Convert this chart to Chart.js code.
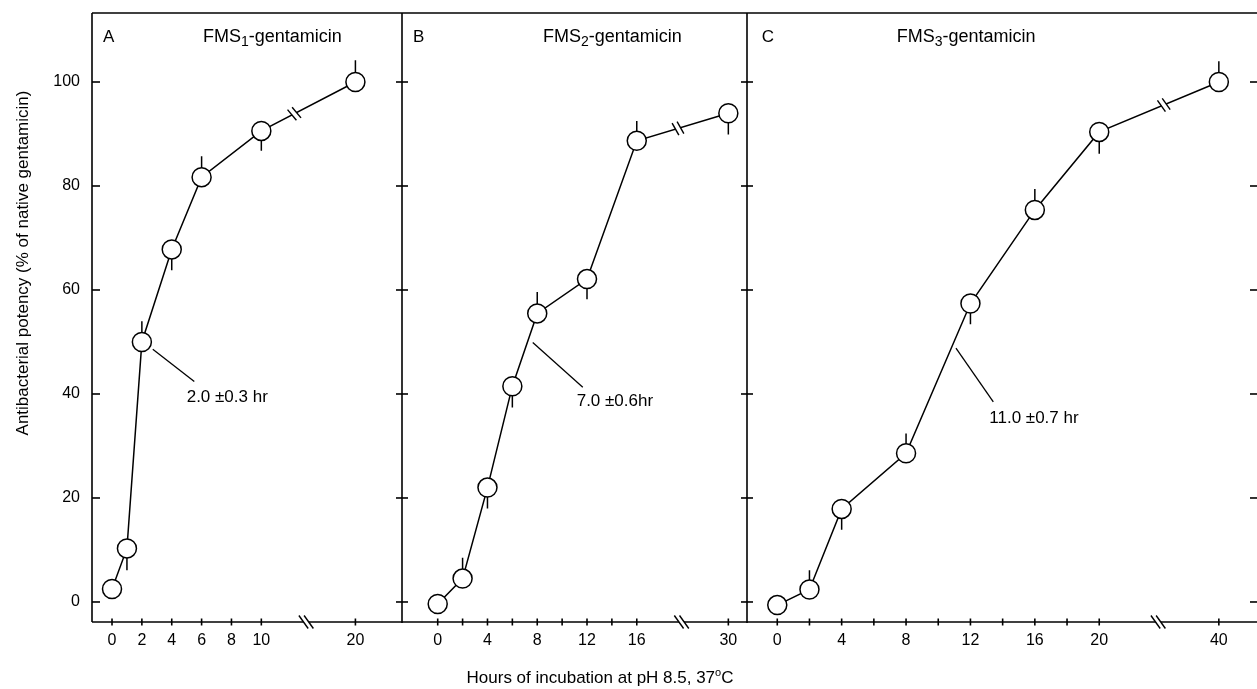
<!DOCTYPE html>
<html>
<head>
<meta charset="utf-8">
<script src="https://cdn.jsdelivr.net/npm/chart.js@4.4.0/dist/chart.umd.min.js"></script>
<style>
  html, body { margin: 0; padding: 0; background: #fff; }
  body { width: 1257px; height: 689px; position: relative; overflow: hidden; }
  canvas { position: absolute; top: 0; }
</style>
</head>
<body>
<canvas id="cA"></canvas>
<canvas id="cB"></canvas>
<canvas id="cC"></canvas>
<script>
// ---- data ----
const yTickValues = [0, 20, 40, 60, 80, 100];

const hoursA = [0, 1, 2, 4, 6, 10, 20];
const potencyA = [2.5, 10.3, 50, 67.8, 81.7, 90.6, 100];
const sdA = [0, -4.2, 4, -4, 4, -3.8, 4.2]; // sign = side the bar is drawn on
const tickHoursA = [0, 2, 4, 6, 8, 10, 20];
const labelHoursA = [0, 2, 4, 6, 8, 10, 20];

const hoursB = [0, 2, 4, 6, 8, 12, 16, 30];
const potencyB = [-0.4, 4.5, 22, 41.5, 55.5, 62.1, 88.7, 94];
const sdB = [0, 4, -4, -4.1, 4.1, -3.9, 3.8, -4.1];
const tickHoursB = [0, 2, 4, 6, 8, 10, 12, 14, 16, 30];
const labelHoursB = [0, 4, 8, 12, 16, 30];

const hoursC = [0, 2, 4, 8, 12, 16, 20, 40];
const potencyC = [-0.6, 2.4, 17.9, 28.6, 57.4, 75.4, 90.4, 100];
const sdC = [0, 3.7, -4, 3.8, -4, 4, -4.2, 4];
const tickHoursC = [0, 2, 4, 6, 8, 10, 12, 14, 16, 18, 20, 40];
const labelHoursC = [0, 4, 8, 12, 16, 20, 40];

const panelLetters = ['A', 'B', 'C'];
const panelSubs = ['1', '2', '3'];
const halfLives = ['2.0 \u00b10.3 hr', '7.0 \u00b10.6hr', '11.0 \u00b10.7 hr'];

const FONT = '"Liberation Sans", Arial, Helvetica, sans-serif';
Chart.defaults.font.family = FONT;
Chart.defaults.color = '#000';

// layout of each panel (x axis is broken: the last hour is drawn at farPos)
const panels = [
  { id: 'cA', left: 0, width: 410, padL: 0, padR: 8, showY: true, rightLine: true,
    xMin: -1.34, xMax: 19.42, linearEnd: 10, farPos: 16.3, axisBreak: 13.0, lineBreakT: 0.35,
    letterDx: 11, titleDx: 111, note: [[2.73, 48.6], [5.51, 42.4], [5.0, 39.4]],
    hours: hoursA, potency: potencyA, sd: sdA, tickHours: tickHoursA, labelHours: labelHoursA },
  { id: 'cB', left: 395, width: 360, padL: 7, padR: 8, showY: false, rightLine: true,
    xMin: -2.87, xMax: 24.86, linearEnd: 16, farPos: 23.36, axisBreak: 19.6, lineBreakT: 0.45,
    letterDx: 11, titleDx: 141, note: [[7.64, 49.9], [11.66, 41.3], [11.17, 38.5]],
    hours: hoursB, potency: potencyB, sd: sdB, tickHours: tickHoursB, labelHours: labelHoursB },
  { id: 'cC', left: 740, width: 517, padL: 7, padR: 0, showY: false, rightLine: false,
    xMin: -1.88, xMax: 29.8, linearEnd: 20, farPos: 27.43, axisBreak: 23.66, lineBreakT: 0.54,
    letterDx: 14.7, titleDx: 149.7, note: [[11.1, 48.8], [13.42, 38.5], [13.17, 35.3]],
    hours: hoursC, potency: potencyC, sd: sdC, tickHours: tickHoursC, labelHours: labelHoursC }
];

function axisPos(p, h) { return h <= p.linearEnd ? h : p.farPos; }

function seg(ctx, x1, y1, x2, y2) {
  ctx.beginPath(); ctx.moveTo(x1, y1); ctx.lineTo(x2, y2); ctx.stroke();
}

function runs(ctx, x, y, parts, align) {
  let w = 0;
  parts.forEach(r => { ctx.font = r.size + 'px ' + FONT; r.w = ctx.measureText(r.t).width; w += r.w; });
  if (align === 'center') x -= w / 2;
  parts.forEach(r => {
    ctx.font = r.size + 'px ' + FONT;
    ctx.fillText(r.t, x, y + (r.dy || 0));
    x += r.w;
  });
}

// two parallel slashes across a line; l = line direction, d = slash direction
function breakMarks(ctx, cx, cy, lx, ly, dx, dy, half, len) {
  const h = len / 2;
  ctx.fillStyle = '#fff';
  ctx.beginPath();
  ctx.moveTo(cx - lx * half - dx * h, cy - ly * half - dy * h);
  ctx.lineTo(cx + lx * half - dx * h, cy + ly * half - dy * h);
  ctx.lineTo(cx + lx * half + dx * h, cy + ly * half + dy * h);
  ctx.lineTo(cx - lx * half + dx * h, cy - ly * half + dy * h);
  ctx.closePath();
  ctx.fill();
  [-half, half].forEach(o => {
    seg(ctx, cx + lx * o - dx * h, cy + ly * o - dy * h, cx + lx * o + dx * h, cy + ly * o + dy * h);
  });
}

function makeFrame(p, idx) {
  return {
    id: 'frame' + idx,
    afterDatasetsDraw(chart) {
      const { ctx, chartArea: a, scales: { x, y } } = chart;
      ctx.save();
      ctx.strokeStyle = '#000';
      ctx.fillStyle = '#000';
      ctx.lineWidth = 1.6;
      ctx.lineCap = 'butt';

      // frame
      seg(ctx, a.left, a.top, a.right, a.top);
      seg(ctx, a.left, a.bottom, a.right, a.bottom);
      if (p.showY) seg(ctx, a.left, a.top, a.left, a.bottom);
      if (p.rightLine) seg(ctx, a.right, a.top, a.right, a.bottom + 1);

      // y tick marks
      yTickValues.forEach(v => {
        const py = y.getPixelForValue(v);
        if (p.showY) seg(ctx, a.left, py, a.left + 8, py);
        if (p.rightLine) seg(ctx, a.right - 6, py, a.right + 6, py);
        else seg(ctx, a.right - 7, py, a.right, py);
      });

      // x tick marks
      p.tickHours.forEach(h => {
        const px = x.getPixelForValue(axisPos(p, h));
        seg(ctx, px, a.bottom - 3.5, px, a.bottom + 3.5);
      });

      // axis break
      ctx.lineWidth = 1.4;
      breakMarks(ctx, x.getPixelForValue(p.axisBreak), a.bottom, 1, 0, 0.58, 0.81, 2.6, 16);
      ctx.fillStyle = '#000';

      // break on the data line between the last two points
      const pts = chart.getDatasetMeta(0).data;
      const p1 = pts[pts.length - 2], p2 = pts[pts.length - 1];
      const t = p.lineBreakT;
      const bx = p1.x + (p2.x - p1.x) * t, by = p1.y + (p2.y - p1.y) * t;
      let lx = p2.x - p1.x, ly = p2.y - p1.y;
      const L = Math.hypot(lx, ly); lx /= L; ly /= L;
      breakMarks(ctx, bx, by, lx, ly, -ly * 0.9 + lx * 0.2, lx * 0.9 + ly * 0.2, 2.6, 15);
      ctx.fillStyle = '#000';

      // half-life leader and label
      ctx.lineWidth = 1.3;
      const n = p.note;
      seg(ctx, x.getPixelForValue(n[0][0]), y.getPixelForValue(n[0][1]),
               x.getPixelForValue(n[1][0]), y.getPixelForValue(n[1][1]));
      ctx.textBaseline = 'middle';
      ctx.textAlign = 'left';
      ctx.font = '17px ' + FONT;
      ctx.fillText(halfLives[idx], x.getPixelForValue(n[2][0]), y.getPixelForValue(n[2][1]));

      // panel letter and title
      ctx.font = '17px ' + FONT;
      ctx.fillText(panelLetters[idx], a.left + p.letterDx, 37);
      runs(ctx, a.left + p.titleDx, 37, [
        { t: 'FMS', size: 18 },
        { t: panelSubs[idx], size: 14, dy: 5 },
        { t: '-gentamicin', size: 18 }
      ], 'left');

      // axis titles
      if (idx === 0) {
        ctx.save();
        ctx.translate(23, 263);
        ctx.rotate(-Math.PI / 2);
        ctx.textAlign = 'center';
        ctx.font = '17px ' + FONT;
        ctx.fillText('Antibacterial potency (% of native gentamicin)', 0, 0);
        ctx.restore();
      }
      if (idx === 1) {
        ctx.textAlign = 'left';
        runs(ctx, a.left + 198, 678, [
          { t: 'Hours of incubation at pH 8.5, 37', size: 17 },
          { t: 'o', size: 11, dy: -5 },
          { t: 'C', size: 17 }
        ], 'center');
      }
      ctx.restore();
    }
  };
}

panels.forEach((p, idx) => {
  const canvas = document.getElementById(p.id);
  canvas.style.left = p.left + 'px';
  canvas.width = p.width;
  canvas.height = 689;

  const points = p.hours.map((h, i) => ({ x: axisPos(p, h), y: p.potency[i] }));
  const bars = [];
  p.hours.forEach((h, i) => {
    if (!p.sd[i]) return;
    const x = axisPos(p, h);
    bars.push({ x: x, y: p.potency[i] }, { x: x, y: p.potency[i] + p.sd[i] }, { x: x, y: null });
  });

  new Chart(canvas, {
    type: 'line',
    data: {
      datasets: [
        {
          data: points,
          borderColor: '#000',
          borderWidth: 1.5,
          pointRadius: 9.5,
          pointBackgroundColor: '#fff',
          pointBorderColor: '#000',
          pointBorderWidth: 1.5,
          tension: 0,
          order: 0,
          clip: false
        },
        {
          data: bars,
          borderColor: '#000',
          borderWidth: 1.5,
          pointRadius: 0,
          spanGaps: false,
          order: 1,
          clip: false
        }
      ]
    },
    options: {
      responsive: false,
      animation: false,
      devicePixelRatio: 1,
      layout: { autoPadding: false, padding: { left: p.padL, right: p.padR, top: 13, bottom: 0 } },
      plugins: { legend: { display: false }, tooltip: { enabled: false } },
      scales: {
        x: {
          type: 'linear',
          min: p.xMin,
          max: p.xMax,
          afterBuildTicks: s => { s.ticks = p.tickHours.map(h => ({ value: axisPos(p, h) })); },
          afterFit: s => { s.height = 67; s.paddingLeft = 0; s.paddingRight = 0; },
          grid: { display: false, drawTicks: false },
          border: { display: false },
          ticks: {
            padding: 9,
            font: { size: 16 },
            color: '#000',
            maxRotation: 0,
            autoSkip: false,
            callback: (v, i) => p.labelHours.includes(p.tickHours[i]) ? String(p.tickHours[i]) : ''
          }
        },
        y: {
          type: 'linear',
          display: p.showY,
          min: -3.85,
          max: 113.27,
          afterBuildTicks: s => { s.ticks = yTickValues.map(v => ({ value: v })); },
          afterFit: s => { s.width = p.showY ? 92 : 0; s.paddingTop = 0; s.paddingBottom = 0; },
          grid: { display: false, drawTicks: false },
          border: { display: false },
          ticks: { padding: 12, font: { size: 16 }, color: '#000' }
        }
      }
    },
    plugins: [makeFrame(p, idx)]
  });
});
</script>
</body>
</html>
